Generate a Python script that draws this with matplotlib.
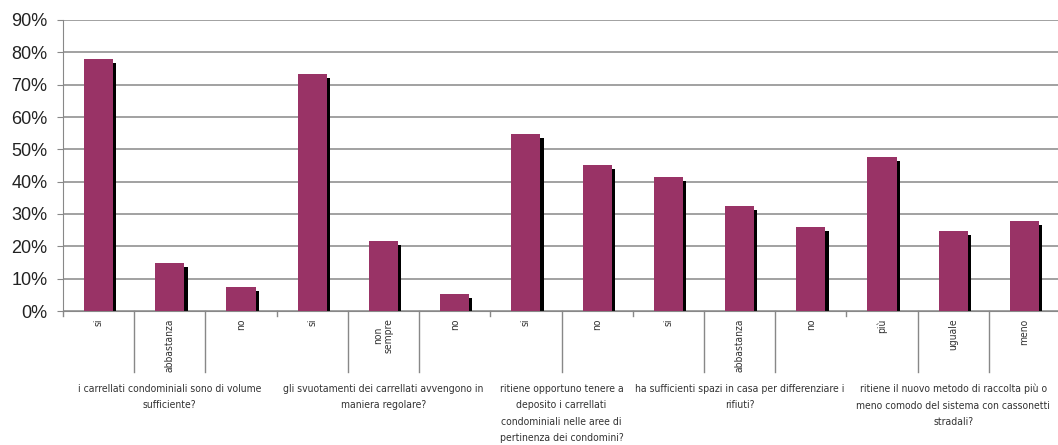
import matplotlib.pyplot as plt
import matplotlib.transforms as mtransforms

# data
answers = ['si', 'abbastanza', 'no',
           'si', 'non\nsempre', 'no',
           'si', 'no',
           'si', 'abbastanza', 'no',
           'più', 'uguale', 'meno']
values = [0.78, 0.149, 0.074,
          0.734, 0.217, 0.052,
          0.548, 0.452,
          0.415, 0.325, 0.26,
          0.475, 0.248, 0.279]
questions = ['i carrellati condominiali sono di volume\nsufficiente?',
             'gli svuotamenti dei carrellati avvengono in\nmaniera regolare?',
             'ritiene opportuno tenere a\ndeposito i carrellati\ncondominiali nelle aree di\npertinenza dei condomini?',
             'ha sufficienti spazi in casa per differenziare i\nrifiuti?',
             'ritiene il nuovo metodo di raccolta più o\nmeno comodo del sistema con cassonetti\nstradali?']
group_sizes = [3, 3, 2, 3, 3]

fig = plt.figure(figsize=(10.58, 4.45), dpi=100)
ax = fig.add_axes([63/1058, 134/445, 997/1058, 291/445])

x = list(range(len(values)))
w = 0.41
# shadow first, then bar on top
ax.bar([i + 0.045 for i in x], [v - 0.0125 for v in values], w, color='black', zorder=2)
ax.bar(x, values, w, color='#993366', zorder=3)

ax.set_ylim(0, 0.9)
ax.set_xlim(-0.5, len(values) - 0.5)
ax.set_yticks([i / 10 for i in range(10)])
ax.set_yticklabels(['%d%%' % (i * 10) for i in range(10)], fontsize=13,
                   family='Liberation Sans', color='#222222')
ax.yaxis.grid(True, color='#9a9a9a', lw=1.3)
ax.set_axisbelow(True)
ax.tick_params(axis='y', length=4.3, color='#888888', pad=7)
ax.tick_params(axis='x', length=0, labelbottom=False)
for s in ['top', 'right']:
    ax.spines[s].set_visible(False)
ax.spines['left'].set_color('#888888')
ax.spines['bottom'].set_color('#888888')

trans = mtransforms.blended_transform_factory(ax.transData, ax.transAxes)

# answer labels
for i, a in enumerate(answers):
    ax.text(i, -0.025, a, rotation=90, ha='center', va='top', fontsize=7.4,
            family='DejaVu Sans', fontstretch='condensed', color='#333333',
            transform=trans, multialignment='center', linespacing=1.1)

# separators: long inside groups, short at group edges
start = 0
for g, n in enumerate(group_sizes):
    ax.plot([start - 0.5, start - 0.5], [0, -0.018], color='#888888', lw=1,
            transform=trans, clip_on=False)
    for k in range(1, n):
        xs = start + k - 0.5
        ax.plot([xs, xs], [0, -0.21], color='#888888', lw=1, transform=trans, clip_on=False)
    center = start + (n - 1) / 2
    ax.text(center, -0.25, questions[g], ha='center', va='top', fontsize=7.5,
            family='DejaVu Sans', fontstretch='condensed', color='#333333',
            transform=trans, linespacing=1.8)
    start += n

fig.savefig('out.png', dpi=100)
